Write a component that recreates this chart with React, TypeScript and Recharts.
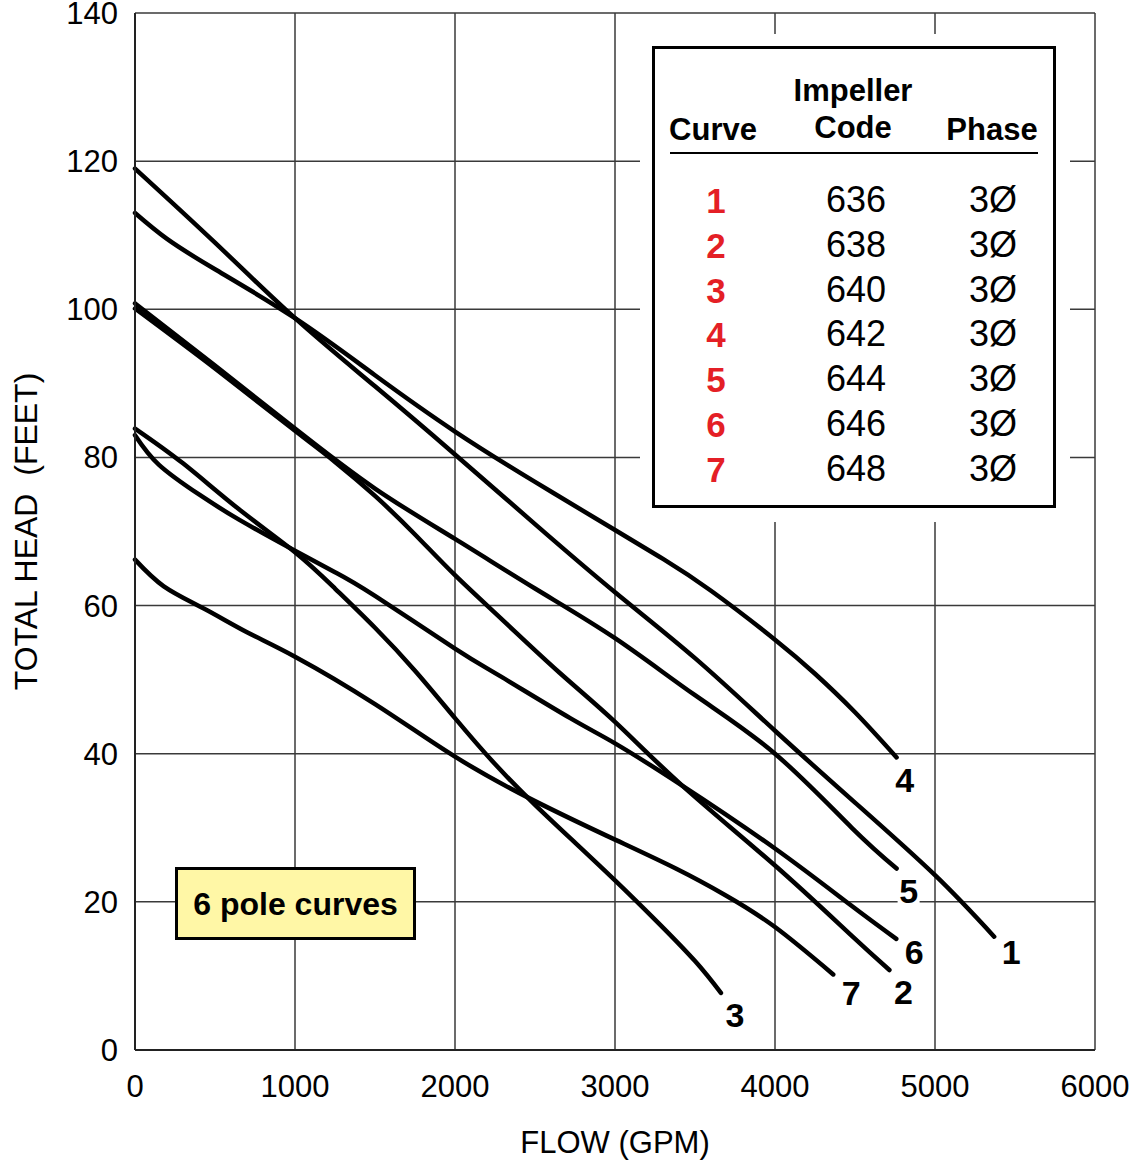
import { LineChart, Line, XAxis, YAxis, CartesianGrid, Label } from 'recharts';

const FONT = '"Liberation Sans", Arial, Helvetica, sans-serif';
const RED = '#e41f26';

// axis ticks
const flowTicks = [0, 1000, 2000, 3000, 4000, 5000, 6000];
const headTicks = [0, 20, 40, 60, 80, 100, 120, 140];

// [flow (gpm), head (ft)]
const curve1 = [[0, 119.0], [500, 109.0], [1000, 98.8], [1500, 89.6], [2000, 80.4], [2500, 71.0], [3000, 61.8], [3500, 52.9], [4000, 43.1], [4500, 33.4], [5000, 23.6], [5370, 15.3]];
const curve2 = [[0, 100.1], [500, 92.0], [1000, 83.6], [1250, 79.4], [1500, 74.8], [1750, 69.6], [2000, 64.1], [2300, 58.0], [2650, 51.0], [3000, 44.3], [3420, 35.7], [4000, 24.9], [4470, 15.6], [4715, 10.8]];
const curve3 = [[0, 83.9], [300, 79.2], [650, 73.0], [1000, 67.2], [1250, 62.3], [1500, 57.0], [1750, 51.2], [2000, 44.8], [2250, 38.6], [2500, 33.1], [2750, 28.0], [3000, 22.9], [3250, 17.6], [3500, 12.0], [3662, 7.7]];
const curve4 = [[0, 113.0], [200, 109.5], [500, 105.4], [1000, 98.8], [1500, 91.1], [2000, 83.5], [2500, 76.7], [3000, 70.2], [3300, 66.3], [3600, 62.0], [4000, 55.4], [4250, 50.8], [4500, 45.6], [4760, 39.5]];
const curve5 = [[0, 100.8], [500, 92.4], [1000, 83.9], [1500, 75.8], [2000, 69.0], [2500, 62.3], [3000, 55.6], [3500, 47.9], [4000, 40.0], [4480, 30.0], [4760, 24.5]];
const curve6 = [[0, 83.0], [150, 79.0], [400, 75.0], [650, 71.6], [1000, 67.4], [1250, 64.5], [1500, 61.3], [2000, 54.2], [2280, 50.5], [2720, 44.8], [3000, 41.4], [3420, 35.7], [4000, 27.2], [4470, 19.6], [4758, 15.0]];
const curve7 = [[0, 66.2], [180, 62.6], [430, 59.6], [700, 56.4], [1000, 53.1], [1500, 46.7], [2000, 39.6], [2500, 33.6], [3000, 28.4], [3380, 24.5], [3690, 20.9], [4000, 16.6], [4364, 10.2]];

// legend table
const curveNames = ['1', '2', '3', '4', '5', '6', '7'];
const impellerCodes = ['636', '638', '640', '642', '644', '646', '648'];
const phases = ['3Ø', '3Ø', '3Ø', '3Ø', '3Ø', '3Ø', '3Ø'];

const curveData = [curve1, curve2, curve3, curve4, curve5, curve6, curve7];

// where the curve number sits relative to the curve end (px)
const labelOffsets = [[17, 15], [14, 22], [14, 22], [8, 23], [12, 22], [18, 13], [18, 19]];

const toPoints = (pairs: number[][]) => pairs.map(([flow, head]) => ({ flow, head }));

const pageCss = `
html, body { margin: 0; padding: 0; overflow: hidden; background: #fff; }
.recharts-wrapper, .recharts-surface { overflow: visible !important; }
`;

const endLabel = (name: string, count: number, dx: number, dy: number) => (props: any) => {
  if (props.index !== count - 1) return null;
  const x = props.x + dx;
  const y = props.y + dy;
  return (
    <g key={`end-${name}`}>
      <rect x={x - 11} y={y - 14} width={22} height={28} fill="#fff" />
      <text x={x} y={y + 12} textAnchor="middle" fontFamily={FONT} fontWeight="bold" fontSize={34} fill="#000">
        {name}
      </text>
    </g>
  );
};

const HeadTick = (props: any) => {
  const { x, y, payload } = props;
  return (
    <text x={x} y={y + 11} textAnchor="end" fontFamily={FONT} fontSize={31} fill="#000">
      {payload.value}
    </text>
  );
};

const FlowTick = (props: any) => {
  const { x, y, payload } = props;
  return (
    <text x={x} y={y + 47} textAnchor="middle" fontFamily={FONT} fontSize={31} fill="#000">
      {payload.value}
    </text>
  );
};

const Cell = ({ x, y, children, style }: { x: number; y: number; children: any; style?: any }) => (
  <div
    style={{
      position: 'absolute',
      left: x,
      top: y,
      transform: 'translate(-50%, -50%)',
      whiteSpace: 'nowrap',
      lineHeight: 1,
      ...style,
    }}
  >
    {children}
  </div>
);

const LegendTable = () => {
  const head = { fontWeight: 'bold', fontSize: 31 };
  return (
    <div style={{ position: 'absolute', left: 640, top: 34, width: 430, height: 488, background: '#fff', fontFamily: FONT }}>
      <div style={{ position: 'absolute', left: 12, top: 12, width: 404, height: 462, border: '3px solid #000', boxSizing: 'border-box' }}>
        <Cell x={198} y={41} style={head}>Impeller</Cell>
        <Cell x={58} y={80} style={head}>Curve</Cell>
        <Cell x={198} y={78} style={head}>Code</Cell>
        <Cell x={337} y={80} style={head}>Phase</Cell>
        <div style={{ position: 'absolute', left: 15, top: 103, width: 368, height: 2, background: '#000' }} />
        {curveNames.map((name, i) => (
          <div key={name}>
            <Cell x={61} y={151 + i * 44.8} style={{ color: RED, fontWeight: 'bold', fontSize: 35 }}>{name}</Cell>
            <Cell x={201} y={151 + i * 44.8} style={{ fontSize: 36 }}>{impellerCodes[i]}</Cell>
            <Cell x={338} y={151 + i * 44.8} style={{ fontSize: 36 }}>{phases[i]}</Cell>
          </div>
        ))}
      </div>
    </div>
  );
};

const YTitle = (props: any) => {
  const { viewBox } = props;
  const cy = viewBox.y + viewBox.height / 2;
  return (
    <text
      transform={`translate(37, ${cy}) rotate(-90)`}
      textAnchor="middle"
      fontFamily={FONT}
      fontSize={32}
      fill="#000"
      style={{ whiteSpace: 'pre' }}
    >
      {'TOTAL HEAD  (FEET)'}
    </text>
  );
};

export default function App() {
  return (
    <div style={{ position: 'relative', width: 1131, height: 1166, background: '#fff' }}>
      <style>{pageCss}</style>
      <LineChart width={1131} height={1166} margin={{ top: 13, right: 36, left: 0, bottom: 0 }}>
        <CartesianGrid stroke="#3a3a3a" strokeWidth={1.5} />
        <XAxis
          dataKey="flow"
          type="number"
          domain={[0, 6000]}
          ticks={flowTicks}
          height={116}
          tick={<FlowTick />}
          tickLine={false}
          tickSize={0}
          tickMargin={0}
          axisLine={{ stroke: '#222', strokeWidth: 2 }}
          allowDuplicatedCategory={false}
          interval={0}
        >
          <Label value="FLOW (GPM)" position="insideBottom" offset={13} fontFamily={FONT} fontSize={31} fill="#000" />
        </XAxis>
        <YAxis
          type="number"
          domain={[0, 140]}
          ticks={headTicks}
          width={135}
          tick={<HeadTick />}
          tickLine={false}
          tickSize={0}
          tickMargin={17}
          axisLine={{ stroke: '#222', strokeWidth: 2 }}
          interval={0}
        >
          <Label content={<YTitle />} />
        </YAxis>
        {curveData.map((pairs, i) => (
          <Line
            key={curveNames[i]}
            name={`Curve ${curveNames[i]}`}
            data={toPoints(pairs)}
            dataKey="head"
            type="natural"
            stroke="#000"
            strokeWidth={4.5}
            strokeLinecap="round"
            dot={false}
            activeDot={false}
            isAnimationActive={false}
            label={endLabel(curveNames[i], pairs.length, labelOffsets[i][0], labelOffsets[i][1])}
          />
        ))}
      </LineChart>
      <LegendTable />
      <div
        style={{
          position: 'absolute',
          left: 175,
          top: 867,
          width: 241,
          height: 73,
          boxSizing: 'border-box',
          border: '3px solid #000',
          background: '#fff7a6',
          display: 'flex',
          alignItems: 'center',
          justifyContent: 'center',
          fontFamily: FONT,
          fontWeight: 'bold',
          fontSize: 32,
          lineHeight: 1,
        }}
      >
        6 pole curves
      </div>
    </div>
  );
}
